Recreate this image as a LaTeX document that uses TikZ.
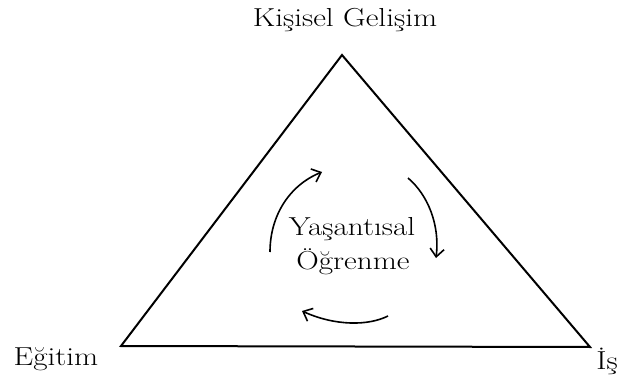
\documentclass[tikz,border=0pt]{standalone}
\usetikzlibrary{arrows.meta}
\newcommand{\wtxt}[1]{\scalebox{1.2}[1]{#1}}
\begin{document}
\begin{tikzpicture}[x=1pt,y=-1pt,
  lbl/.style={inner sep=0pt, font=\fontsize{26}{30}\selectfont},
  tri/.style={line width=2pt, line join=miter},
  cyc/.style={line width=1.6pt, -{Straight Barb[length=8pt,width=14pt,line width=1.6pt]}}]
\useasboundingbox (0,0) rectangle (621,382);
\coordinate (T) at (342,55);
\coordinate (L) at (121,346);
\coordinate (R) at (590,347);
\draw[tri] (T) -- (L) -- (R) -- cycle;
\node[lbl] (top) at (345,20) {\wtxt{Kişisel Gelişim}};
\node[lbl] (egt) at (56,359) {\wtxt{Eğitim}};
\node[lbl] (is) at (607,361) {\wtxt{İş}};
\node[lbl] (mid1) at (352,229) {\wtxt{Yaşantısal}};
\node[lbl] (mid2) at (353,262) {\wtxt{Öğrenme}};
\coordinate (a1) at (270,252);
\coordinate (a2) at (322,172);
\coordinate (b1) at (408,178);
\coordinate (b2) at (436,258);
\coordinate (c1) at (388,316);
\coordinate (c2) at (302,311);
\draw[cyc] (a1) .. controls (270,215) and (290,185) .. (a2);
\draw[cyc] (b1) .. controls (428,195) and (440,225) .. (b2);
\draw[cyc] (c1) .. controls (368,326) and (335,326) .. (c2);
\end{tikzpicture}
\end{document}
